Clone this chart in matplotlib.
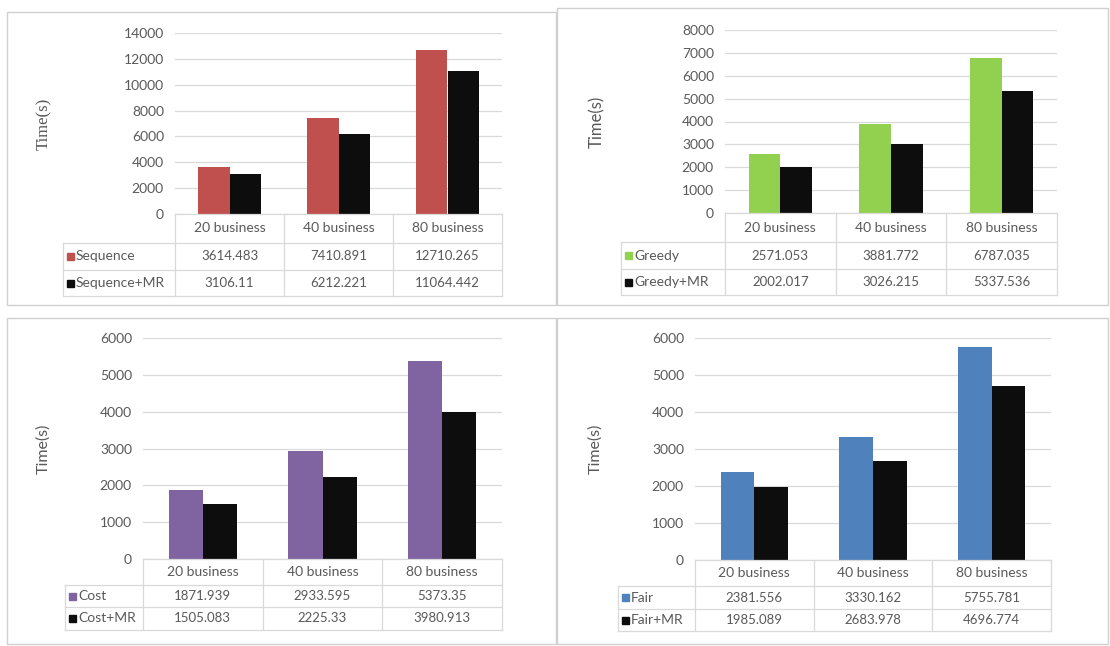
import numpy as np
import matplotlib
matplotlib.use("Agg")
import matplotlib.pyplot as plt
from matplotlib.lines import Line2D
from matplotlib.patches import Rectangle

W, H = 1110, 646

categories = ['20 business', '40 business', '80 business']

sequence = [3614.483, 7410.891, 12710.265]
sequence_mr = [3106.11, 6212.221, 11064.442]
greedy = [2571.053, 3881.772, 6787.035]
greedy_mr = [2002.017, 3026.215, 5337.536]
cost = [1871.939, 2933.595, 5373.35]
cost_mr = [1505.083, 2225.33, 3980.913]
fair = [2381.556, 3330.162, 5755.781]
fair_mr = [1985.089, 2683.978, 4696.774]

FONT = ['Lato', 'DejaVu Sans']
TXT = '#595959'
GRID = '#d9d9d9'

fig = plt.figure(figsize=(W / 100, H / 100), dpi=100)
fig.patch.set_facecolor('white')


def fx(x):
    return x / W


def fy(y):
    return 1 - y / H


def line(x0, y0, x1, y1, color=GRID):
    fig.add_artist(Line2D([fx(x0), fx(x1)], [fy(y0), fy(y1)], color=color,
                          lw=0.9, transform=fig.transFigure))


def panel(frame, box, tbl_left, rows, ylab_x, names, series, colors,
          ymax, step, ylab_font, ylab_size):
    # chart area border
    fl, ft, fr, fb = frame
    fig.add_artist(Rectangle((fx(fl), fy(fb)), (fr - fl) / W, (fb - ft) / H,
                             fill=False, edgecolor='#d0d0d0', lw=1,
                             transform=fig.transFigure))

    l, t, r, b = box
    ax = fig.add_axes([fx(l), fy(b), (r - l) / W, (b - t) / H])
    x = np.arange(len(categories))
    w = 0.285
    ax.bar(x - w / 2, series[0], w, color=colors[0], zorder=3)
    ax.bar(x + w / 2, series[1], w, color=colors[1], zorder=3)
    ax.set_xlim(-0.5, 2.5)
    ax.set_ylim(0, ymax)
    ax.set_yticks(range(0, ymax + 1, step))
    ax.set_xticks([])
    ax.grid(axis='y', color=GRID, lw=0.9)
    ax.set_axisbelow(True)
    for s in ax.spines.values():
        s.set_visible(False)
    ax.tick_params(axis='y', length=0, pad=8, labelsize=10, labelcolor=TXT)
    for lab in ax.get_yticklabels():
        lab.set_family(FONT)

    fig.text(fx(ylab_x), fy((t + b) / 2), 'Time(s)', rotation=90,
             ha='center', va='center', fontsize=ylab_size, color=TXT,
             family=ylab_font)

    # data table under the plot
    cols = [l + (r - l) * k / 3 for k in range(4)]
    h0, h1, h2 = rows
    line(l, b, r, b)
    line(tbl_left, h0, r, h0)
    line(tbl_left, h1, r, h1)
    line(tbl_left, h2, r, h2)
    line(tbl_left, h0, tbl_left, h2)
    for c in cols:
        line(c, b, c, h2)
    for k, cat in enumerate(categories):
        cx = (cols[k] + cols[k + 1]) / 2
        fig.text(fx(cx), fy((b + h0) / 2), cat, ha='center', va='center',
                 fontsize=10, color=TXT, family=FONT)
    for (y0, y1), name, vals, col in zip([(h0, h1), (h1, h2)], names,
                                         series, colors):
        ym = (y0 + y1) / 2
        sq = 7
        fig.add_artist(Rectangle((fx(tbl_left + 4), fy(ym + sq / 2)),
                                 sq / W, sq / H, color=col,
                                 transform=fig.transFigure))
        fig.text(fx(tbl_left + 13), fy(ym), name, ha='left', va='center',
                 fontsize=10, color=TXT, family=FONT)
        for k, v in enumerate(vals):
            cx = (cols[k] + cols[k + 1]) / 2
            fig.text(fx(cx), fy(ym), str(v), ha='center', va='center',
                     fontsize=9.5, color=TXT, family=FONT)


BLACK = '#0d0d0d'

panel((7, 12, 556, 305), (175, 33, 502, 214), 63, (243, 270, 296), 44,
      ['Sequence', 'Sequence+MR'], [sequence, sequence_mr],
      ['#c0504d', BLACK], 14000, 2000, ['Liberation Serif'], 12)
panel((557, 8, 1108, 305), (725, 30, 1057, 213), 621, (242, 269, 295), 597,
      ['Greedy', 'Greedy+MR'], [greedy, greedy_mr],
      ['#92d050', BLACK], 8000, 1000, FONT, 12)
panel((7, 318, 556, 644), (143, 338, 502, 559), 65, (585, 607, 630), 43,
      ['Cost', 'Cost+MR'], [cost, cost_mr],
      ['#8064a2', BLACK], 6000, 1000, FONT, 11.5)
panel((557, 318, 1108, 644), (695, 338, 1051, 560), 618, (586, 609, 631), 595,
      ['Fair', 'Fair+MR'], [fair, fair_mr],
      ['#4f81bd', BLACK], 6000, 1000, FONT, 11.5)

fig.savefig('out.png', dpi=100)
